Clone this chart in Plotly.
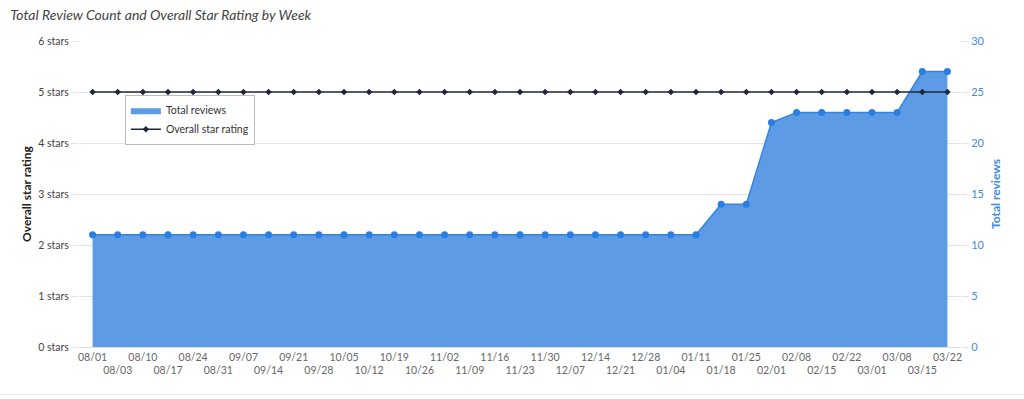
import plotly.graph_objects as go

weeks = ["08/01","08/03","08/10","08/17","08/24","08/31","09/07","09/14","09/21","09/28",
         "10/05","10/12","10/19","10/26","11/02","11/09","11/16","11/23","11/30","12/07",
         "12/14","12/21","12/28","01/04","01/11","01/18","01/25","02/01","02/08","02/15",
         "02/22","03/01","03/08","03/15","03/22"]
total_reviews = [11]*25 + [14, 14, 22, 23, 23, 23, 23, 23, 27, 27]
star_rating = [5]*35
star_ticks = [0, 1, 2, 3, 4, 5, 6]
star_labels = [f"{v} stars" for v in star_ticks]
review_ticks = [0, 5, 10, 15, 20, 25, 30]

idx = list(range(len(weeks)))
ticktext = [w if i % 2 == 0 else "<br>" + w for i, w in enumerate(weeks)]

fig = go.Figure()
# filled area (legend shows a filled square)
fig.add_trace(go.Scatter(
    x=idx, y=total_reviews, name="Total reviews", mode="lines",
    fill="tozeroy", fillcolor="rgb(93,155,228)",
    line=dict(color="rgb(93,155,228)", width=0),
    yaxis="y", legendrank=1))
# outline + markers of the area
fig.add_trace(go.Scatter(
    x=idx, y=total_reviews, name="Total reviews", mode="lines+markers",
    line=dict(color="rgb(52,131,226)", width=1.5),
    marker=dict(color="rgb(42,125,225)", size=7),
    yaxis="y", showlegend=False, hoverinfo="skip"))
fig.add_trace(go.Scatter(
    x=idx, y=star_rating, name="Overall star rating", mode="lines+markers",
    line=dict(color="rgb(31,40,58)", width=1.5),
    marker=dict(color="rgb(31,40,58)", size=5, symbol="diamond"),
    yaxis="y2", legendrank=2))

fig.update_layout(
    width=1024, height=399,
    margin=dict(l=80, r=64, t=41, b=52),
    paper_bgcolor="white", plot_bgcolor="white",
    font=dict(family="Lato", size=11, color="#555"),
    title=dict(text="<i>Total Review Count and Overall Star Rating by Week</i>",
               x=0.01, xanchor="left", y=0.962, yanchor="middle",
               font=dict(family="Lato", size=14, color="#444")),
    showlegend=True,
    legend=dict(x=0.051, y=0.824, xanchor="left", yanchor="top",
                bgcolor="white", bordercolor="#bbb", borderwidth=1,
                font=dict(family="Lato", size=10.5, color="#333"),
                itemwidth=30, tracegroupgap=0),
    xaxis=dict(range=[-0.5, 34.5], tickmode="array", tickvals=idx, ticktext=ticktext,
               tickangle=0, showgrid=False, showline=True, linecolor="#ddd",
               ticks="", tickfont=dict(size=10.5, color="#666"), zeroline=False),
    yaxis=dict(side="right", range=[0, 30], tickvals=review_ticks,
               showgrid=True, gridcolor="#e3e3e3", zeroline=False,
               ticks="outside", ticklen=8, tickcolor="#e3e3e3",
               tickfont=dict(color="rgb(66,139,226)", size=11),
               title=dict(text="<b>Total reviews</b>", standoff=8,
                          font=dict(color="rgb(66,139,226)", size=12))),
    yaxis2=dict(side="left", overlaying="y", range=[0, 6], tickvals=star_ticks,
                ticktext=star_labels, showgrid=False, zeroline=False,
                ticks="outside", ticklen=8, tickcolor="#e3e3e3",
                tickfont=dict(color="#444", size=10.5),
                title=dict(text="<b>Overall star rating</b>", standoff=4,
                           font=dict(color="#222", size=12))),
    shapes=[dict(type="line", xref="paper", yref="paper", x0=-0.1, x1=1.1,
                 y0=-0.155, y1=-0.155, line=dict(color="#e8e8e8", width=1))],
)

fig.write_html("out.html")
